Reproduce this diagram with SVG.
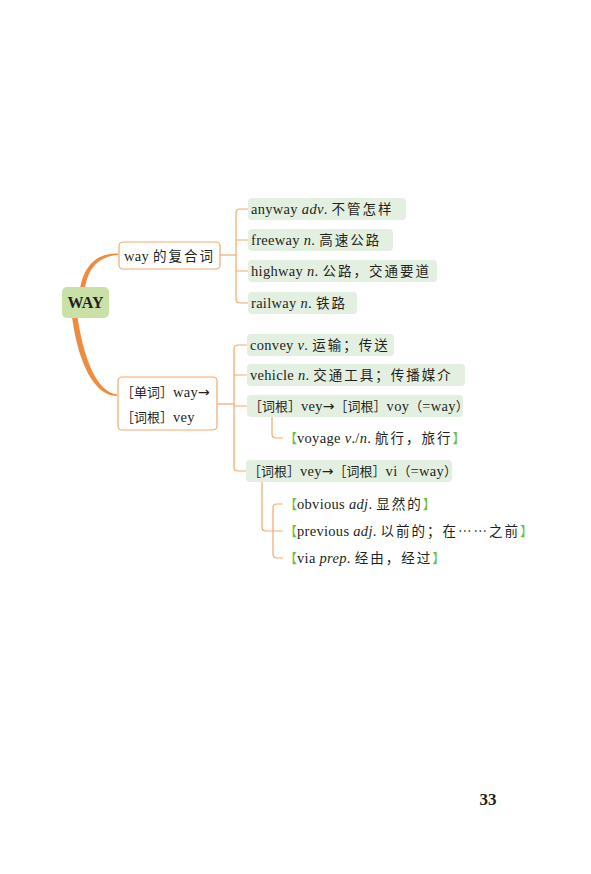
<svg xmlns="http://www.w3.org/2000/svg" width="591" height="874" viewBox="0 0 591 874">
<style>
.t{font-family:"Liberation Serif","Noto Sans CJK SC",serif;font-size:14.5px;letter-spacing:0.3px;fill:#231f20}
.i{font-style:italic}
.c{font-family:"Noto Sans CJK SC",sans-serif;font-size:13.5px;letter-spacing:2px}
.b{font-family:"Noto Sans CJK SC",sans-serif;font-size:13px;letter-spacing:0px}
.a{font-family:"DejaVu Sans",sans-serif;font-size:14px;letter-spacing:0px}
.g{fill:#6cbf4a}
.leaf{fill:#e3f0e1}
.box{fill:#ffffff;stroke:#f3a96c;stroke-width:1.2}
.ln{fill:none;stroke:#f3a96c;stroke-width:1.2}
.thick{fill:#ef8b3d}
</style>
<rect width="591" height="874" fill="#ffffff"/>
<g id="connectors">
<path class="thick" d="M80,289 C84,264 99,252.5 118,253.5 L118,255 C101,256 88,266 85,289 Z"/>
<path class="thick" d="M72,317 C78,362 94,396 117,396 L117,394.5 C97,392 84,360 77.5,317 Z"/>
<path class="ln" d="M220,255 H236"/>
<path class="ln" d="M248,209 H240 Q236,209 236,213 V299 Q236,303 240,303 H248 M236,240 H248 M236,271 H248"/>
<path class="ln" d="M217,404 H234"/>
<path class="ln" d="M247,345 H238 Q234,345 234,349 V467 Q234,471 238,471 H247 M234,375 H247 M234,406 H247"/>
<path class="ln" d="M272,417 V434 Q272,438 276,438 H283"/>
<path class="ln" d="M262,482 V527 Q262,531 266,531 H283"/>
<path class="ln" d="M283,504 H277 Q273,504 273,508 V554 Q273,558 277,558 H283"/>
</g>
<g id="root">
<rect x="62" y="287" width="47" height="31" rx="5" fill="#c9e0a7"/>
<text x="85.5" y="308" text-anchor="middle" style="font-family:'Liberation Serif',serif;font-weight:bold;font-size:16px;fill:#231f20">WAY</text>
</g>
<g id="n1">
<rect class="box" x="119" y="242" width="101" height="27" rx="4"/>
<text class="t" x="124" y="261">way <tspan class="c">的复合词</tspan></text>
</g>
<g id="n2">
<rect class="box" x="118" y="377" width="99" height="53" rx="4"/>
<text class="t" x="121" y="397"><tspan class="b">［单词］</tspan>way<tspan class="a">→</tspan></text>
<text class="t" x="121" y="422"><tspan class="b">［词根］</tspan>vey</text>
</g>
<g id="l1">
<rect class="leaf" x="248" y="198" width="158" height="22" rx="4"/>
<text class="t" x="251" y="214">anyway <tspan class="i">adv</tspan>. <tspan class="c">不管怎样</tspan></text>
</g>
<g id="l2">
<rect class="leaf" x="248" y="229" width="145" height="22" rx="4"/>
<text class="t" x="251" y="245">freeway <tspan class="i">n</tspan>. <tspan class="c">高速公路</tspan></text>
</g>
<g id="l3">
<rect class="leaf" x="248" y="260" width="189" height="22" rx="4"/>
<text class="t" x="251" y="276">highway <tspan class="i">n</tspan>. <tspan class="c">公路，交通要道</tspan></text>
</g>
<g id="l4">
<rect class="leaf" x="248" y="292" width="109" height="22" rx="4"/>
<text class="t" x="251" y="308">railway <tspan class="i">n</tspan>. <tspan class="c">铁路</tspan></text>
</g>
<g id="l5">
<rect class="leaf" x="247" y="334" width="147" height="22" rx="4"/>
<text class="t" x="250" y="350">convey <tspan class="i">v</tspan>. <tspan class="c">运输；传送</tspan></text>
</g>
<g id="l6">
<rect class="leaf" x="247" y="364" width="218" height="22" rx="4"/>
<text class="t" x="250" y="380">vehicle <tspan class="i">n</tspan>. <tspan class="c">交通工具；传播媒介</tspan></text>
</g>
<g id="l7">
<rect class="leaf" x="247" y="395" width="216" height="22" rx="4"/>
<text class="t" x="249" y="411"><tspan class="b">［词根］</tspan>vey<tspan class="a">→</tspan><tspan class="b">［词根］</tspan>voy<tspan class="b">（</tspan>=way<tspan class="b">）</tspan></text>
</g>
<g id="l8">
<text class="t" x="284" y="443"><tspan class="g b">【</tspan>voyage <tspan class="i">v</tspan>./<tspan class="i">n</tspan>. <tspan class="c">航行，旅行</tspan><tspan class="g b">】</tspan></text>
</g>
<g id="l9">
<rect class="leaf" x="246" y="460" width="206" height="22" rx="4"/>
<text class="t" x="248" y="476"><tspan class="b">［词根］</tspan>vey<tspan class="a">→</tspan><tspan class="b">［词根］</tspan>vi<tspan class="b">（</tspan>=way<tspan class="b">）</tspan></text>
</g>
<g id="l10">
<text class="t" x="284" y="509"><tspan class="g b">【</tspan>obvious <tspan class="i">adj</tspan>. <tspan class="c">显然的</tspan><tspan class="g b">】</tspan></text>
</g>
<g id="l11">
<text class="t" x="284" y="536"><tspan class="g b">【</tspan>previous <tspan class="i">adj</tspan>. <tspan class="c">以前的；在……之前</tspan><tspan class="g b">】</tspan></text>
</g>
<g id="l12">
<text class="t" x="284" y="563"><tspan class="g b">【</tspan>via <tspan class="i">prep</tspan>. <tspan class="c">经由，经过</tspan><tspan class="g b">】</tspan></text>
</g>
<text x="488" y="805" text-anchor="middle" style="font-family:'Liberation Serif',serif;font-weight:bold;font-size:17px;fill:#231f20">33</text>
</svg>
